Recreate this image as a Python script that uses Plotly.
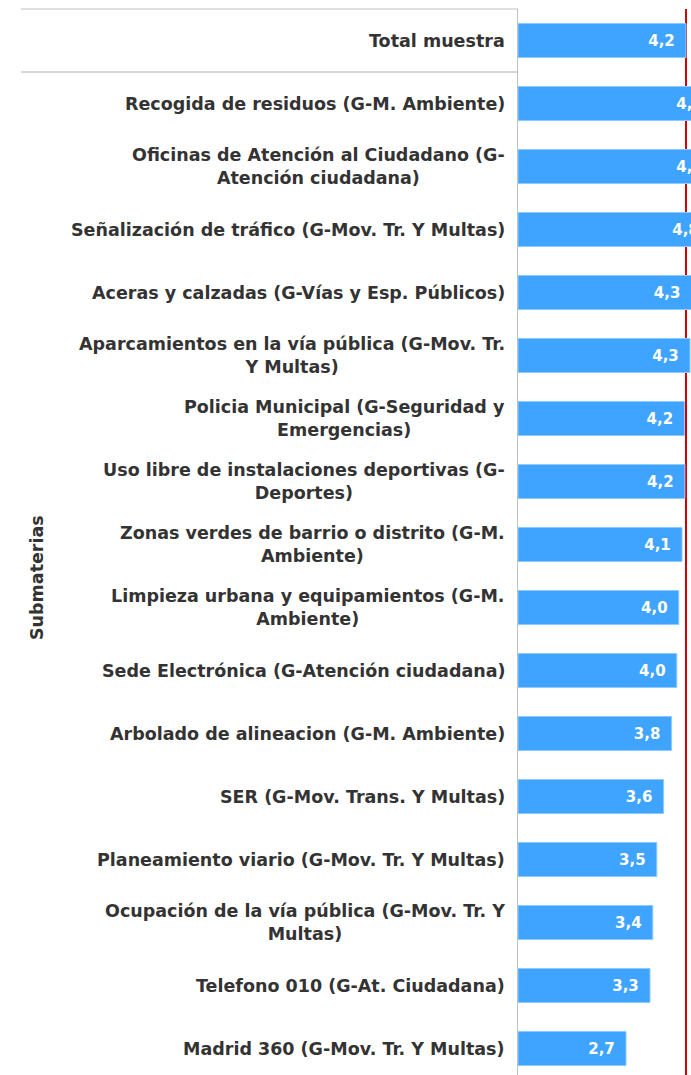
import plotly.graph_objects as go

categories = [
    "Total muestra",
    "Recogida de residuos (G-M. Ambiente)",
    "Oficinas de Atención al Ciudadano (G-<br>Atención ciudadana)",
    "Señalización de tráfico (G-Mov. Tr. Y Multas)",
    "Aceras y calzadas (G-Vías y Esp. Públicos)",
    "Aparcamientos en la vía pública (G-Mov. Tr.<br>Y Multas)",
    "Policia Municipal (G-Seguridad y<br>Emergencias)",
    "Uso libre de instalaciones deportivas (G-<br>Deportes)",
    "Zonas verdes de barrio o distrito (G-M.<br>Ambiente)",
    "Limpieza urbana y equipamientos (G-M.<br>Ambiente)",
    "Sede Electrónica (G-Atención ciudadana)",
    "Arbolado de alineacion (G-M. Ambiente)",
    "SER (G-Mov. Trans. Y Multas)",
    "Planeamiento viario (G-Mov. Tr. Y Multas)",
    "Ocupación de la vía pública (G-Mov. Tr. Y<br>Multas)",
    "Telefono 010 (G-At. Ciudadana)",
    "Madrid 360 (G-Mov. Tr. Y Multas)",
]
values = [4.2, 4.9, 4.9, 4.8, 4.34, 4.3, 4.16, 4.17, 4.1, 4.02, 3.97,
          3.84, 3.64, 3.47, 3.37, 3.3, 2.7]
total_value = 4.2
axis_title = "Submaterias"

FONT = "DejaVu Sans"
positions = list(range(len(categories)))

FIG_W, FIG_H = 691, 1075
M_L, M_T = 518, 9
plot_w = FIG_W - M_L
plot_h = FIG_H - M_T
row_px = 63
px_per_unit = 40.0

fig = go.Figure()
fig.add_trace(go.Bar(
    x=values,
    y=positions,
    orientation="h",
    width=0.54,
    marker=dict(color="#3fa4ff", line=dict(color="#8fcaff", width=1)),
    texttemplate="%{x:.1f}\u00a0\u2009",
    textposition="inside",
    insidetextanchor="end",
    textfont=dict(family=FONT, size=15, color="white", weight="bold"),
    cliponaxis=True,
    hoverinfo="skip",
))

# red reference line at total mean
fig.add_shape(type="line", xref="x", yref="paper", x0=total_value, x1=total_value,
              y0=0, y1=1, line=dict(color="#d40000", width=2), layer="below")

left_px = 21
px0 = -(M_L - left_px) / plot_w
# header borders
fig.add_shape(type="line", xref="paper", yref="paper", x0=px0, x1=0, y0=1, y1=1,
              line=dict(color="#c0c0c0", width=1))
fig.add_shape(type="line", xref="paper", yref="y", x0=px0, x1=0, y0=0.5, y1=0.5,
              line=dict(color="#b0b0b0", width=1))

for i, lab in enumerate(categories):
    fig.add_annotation(
        xref="paper", yref="y", x=0, y=i, xanchor="right", yanchor="middle",
        xshift=-11, text=lab, showarrow=False, align="center",
        font=dict(family=FONT, size=17.5, color="#333333", weight="bold"),
    )

title_x = -(M_L - 37) / plot_w
title_y = 1 - (577 - M_T) / plot_h
fig.add_annotation(
    xref="paper", yref="paper", x=title_x, y=title_y, text=axis_title,
    textangle=-90, showarrow=False, xanchor="center", yanchor="middle",
    font=dict(family=FONT, size=17.5, color="#333333", weight="bold"),
)

span = plot_h / row_px

fig.update_layout(
    width=FIG_W, height=FIG_H,
    margin=dict(l=M_L, r=0, t=M_T, b=0, pad=0),
    plot_bgcolor="white", paper_bgcolor="white",
    separators=",.",
    showlegend=False,
    bargap=0,
    xaxis=dict(range=[0, plot_w / px_per_unit], showgrid=False, zeroline=False,
               showticklabels=False, ticks="", showline=False, fixedrange=True),
    yaxis=dict(range=[-0.5 + span, -0.5], showgrid=False, zeroline=False,
               showticklabels=False, ticks="", showline=True,
               linecolor="#c0c0c0", linewidth=1, fixedrange=True),
)

page_css = ("document.body.style.margin='0';"
            "document.body.style.overflow='hidden';"
            "document.documentElement.style.overflow='hidden';")

fig.write_html("out.html", post_script=page_css,
               config={"displayModeBar": False, "staticPlot": True})
